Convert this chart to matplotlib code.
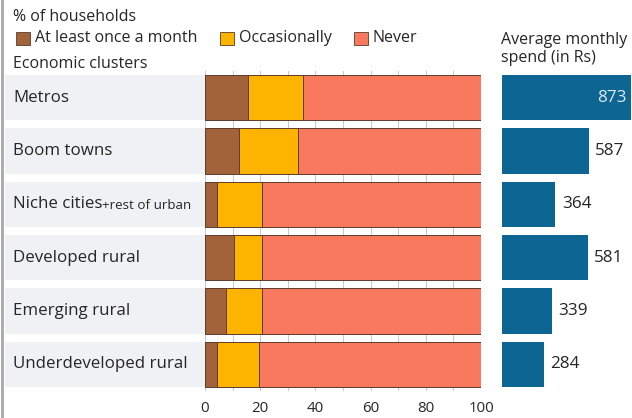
import matplotlib
matplotlib.use("Agg")
import matplotlib.pyplot as plt
import numpy as np

plt.rcParams['font.family'] = ['Open Sans', 'DejaVu Sans']

clusters = ["Metros", "Boom towns", "Niche cities", "Developed rural",
            "Emerging rural", "Underdeveloped rural"]
monthly = [15.6, 12.2, 4.5, 10.4, 7.7, 4.5]
occasionally = [19.8, 21.6, 16.0, 10.1, 12.9, 15.2]
never = [100 - m - o for m, o in zip(monthly, occasionally)]
spend = [873, 587, 364, 581, 339, 284]

BROWN = "#a2623a"
YELLOW = "#fcb400"
SALMON = "#f8795d"
BLUE = "#0d6594"
BAND = "#eff1f4"
TEXT = "#262626"

W, H = 632, 418
fig = plt.figure(figsize=(W / 100, H / 100), dpi=100)
fig.patch.set_facecolor("white")


def px_axes(x0, y0, x1, y1):
    # axes placed by pixel box (top-left origin)
    return fig.add_axes([x0 / W, 1 - y1 / H, (x1 - x0) / W, (y1 - y0) / H])


rows = np.arange(len(clusters))
bar_h = 0.845
ytop, ybot = 71, 391

# label column with grey bands
axl = px_axes(5, ytop, 205, ybot)
axl.barh(rows, [1] * len(rows), height=bar_h, color=BAND, left=0)
axl.set_xlim(0, 1)
axl.set_ylim(5.5, -0.5)
axl.axis("off")
for i, name in enumerate(clusters):
    t = axl.text(0.04, i, name, fontsize=12.2, color=TEXT, va="center", ha="left")
    if name == "Niche cities":
        axl.annotate("+rest of urban", xy=(1, 0), xycoords=t, fontsize=9.6,
                     color=TEXT, va="bottom", ha="left", xytext=(0, 0.3),
                     textcoords="offset points")

# stacked share bars
ax = px_axes(205, ytop, 481, ybot)
edge = dict(edgecolor="#5b3b2b", linewidth=0.7)
ax.barh(rows, monthly, height=bar_h, color=BROWN, **edge, zorder=3)
ax.barh(rows, occasionally, height=bar_h, left=monthly, color=YELLOW, **edge, zorder=3)
left2 = [m + o for m, o in zip(monthly, occasionally)]
ax.barh(rows, never, height=bar_h, left=left2, color=SALMON, **edge, zorder=3)
ax.set_xlim(0, 100)
ax.set_ylim(5.5, -0.5)
ax.set_xticks(np.arange(0, 101, 10), minor=True)
ax.set_xticks(np.arange(0, 101, 20))
ax.grid(axis="x", which="both", color="#c9c9c9", linewidth=0.8, zorder=0)
ax.tick_params(axis="x", which="both", length=0, labelsize=10.8,
               labelcolor=TEXT, pad=7)
ax.set_yticks([])
for s in ax.spines.values():
    s.set_visible(False)

# average monthly spend
axr = px_axes(501.5, ytop, 632, ybot)
axr.barh(rows, spend, height=bar_h, color=BLUE)
axr.set_xlim(0, 880)
axr.set_ylim(5.5, -0.5)
axr.axis("off")
for i, v in enumerate(spend):
    if v > 800:
        axr.annotate(str(v), xy=(v, i), xytext=(-3, 0), textcoords="offset points",
                     ha="right", va="center", fontsize=12.3, color="#dce9f2")
    else:
        axr.annotate(str(v), xy=(v, i), xytext=(4.5, 0), textcoords="offset points",
                     ha="left", va="center", fontsize=12.3, color=TEXT)

# header texts and legend
HEAD = 11.5
fig.text(13 / W, 1 - 17 / H, "% of households", fontsize=HEAD, color=TEXT, va="center")
legend_items = [(16, BROWN, "At least once a month"),
                (220, YELLOW, "Occasionally"),
                (354, SALMON, "Never")]
for x, c, lab in legend_items:
    fig.patches.append(plt.Rectangle((x / W, 1 - 45 / H), 14 / W, 13 / H,
                                     transform=fig.transFigure, facecolor=c,
                                     edgecolor="#5b3b2b", linewidth=0.6))
    fig.text((x + 19) / W, 1 - 38.5 / H, lab, fontsize=HEAD, color=TEXT, va="center")
fig.text(13 / W, 1 - 64 / H, "Economic clusters", fontsize=HEAD, color=TEXT, va="center")
fig.text(501 / W, 1 - 40 / H, "Average monthly", fontsize=HEAD, color=TEXT, va="center")
fig.text(501 / W, 1 - 58 / H, "spend (in Rs)", fontsize=HEAD, color=TEXT, va="center")

# left rule
fig.add_artist(plt.Line2D([2 / W, 2 / W], [0, 1], transform=fig.transFigure,
                          color="#a8a8a8", linewidth=2))

fig.savefig("out.png", dpi=100)
